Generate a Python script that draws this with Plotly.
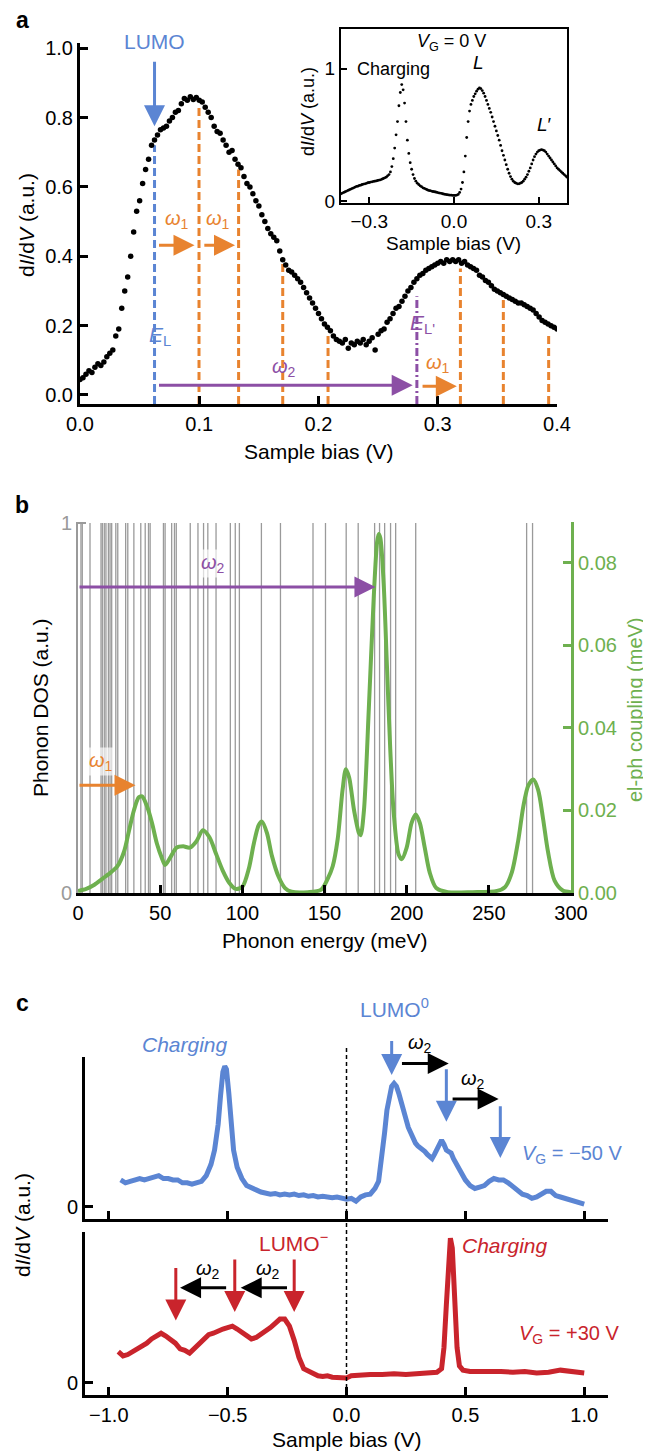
import plotly.graph_objects as go

# ---------------- DATA ----------------
# Panel a: main dI/dV spectrum (bias in V)
a_bias = [0.0, 0.0025, 0.005, 0.0075, 0.01, 0.0125, 0.015, 0.0175, 0.02, 0.0225,
          0.025, 0.0275, 0.03, 0.0325, 0.035, 0.0375, 0.04, 0.0425, 0.045, 0.0475,
          0.05, 0.0525, 0.055, 0.0575, 0.06, 0.0625, 0.065, 0.0675, 0.07, 0.0725,
          0.075, 0.0775, 0.08, 0.0825, 0.085, 0.0875, 0.09, 0.0925, 0.095, 0.0975,
          0.1, 0.1025, 0.105, 0.1075, 0.11, 0.1125, 0.115, 0.1175, 0.12, 0.1225,
          0.125, 0.1275, 0.13, 0.1325, 0.135, 0.1375, 0.14, 0.1425, 0.145, 0.1475,
          0.15, 0.1525, 0.155, 0.1575, 0.16, 0.1625, 0.165, 0.1675, 0.17, 0.1725,
          0.175, 0.1775, 0.18, 0.1825, 0.185, 0.1875, 0.19, 0.1925, 0.195, 0.1975,
          0.2, 0.2025, 0.205, 0.2075, 0.21, 0.2125, 0.215, 0.2175, 0.22, 0.2225,
          0.225, 0.2275, 0.23, 0.2325, 0.235, 0.2375, 0.24, 0.2425, 0.245, 0.2475,
          0.25, 0.2525, 0.255, 0.2575, 0.26, 0.2625, 0.265, 0.2675, 0.27, 0.2725,
          0.275, 0.2775, 0.28, 0.2825, 0.285, 0.2875, 0.29, 0.2925, 0.295, 0.2975,
          0.3, 0.3025, 0.305, 0.3075, 0.31, 0.3125, 0.315, 0.3175, 0.32, 0.3225,
          0.325, 0.3275, 0.33, 0.3325, 0.335, 0.3375, 0.34, 0.3425, 0.345, 0.3475,
          0.35, 0.3525, 0.355, 0.3575, 0.36, 0.3625, 0.365, 0.3675, 0.37, 0.3725,
          0.375, 0.3775, 0.38, 0.3825, 0.385, 0.3875, 0.39, 0.3925, 0.395, 0.3975,
          0.4]
a_didv = [0.045, 0.05, 0.06, 0.07, 0.065, 0.08, 0.09, 0.085, 0.095, 0.11,
          0.12, 0.13, 0.17, 0.19, 0.25, 0.30, 0.34, 0.40, 0.47, 0.53,
          0.56, 0.61, 0.65, 0.68, 0.72, 0.735, 0.75, 0.765, 0.77, 0.775,
          0.79, 0.80, 0.815, 0.82, 0.84, 0.855, 0.85, 0.86, 0.852, 0.858,
          0.85, 0.845, 0.83, 0.815, 0.80, 0.775, 0.76, 0.755, 0.735, 0.72,
          0.70, 0.705, 0.68, 0.665, 0.655, 0.63, 0.61, 0.60, 0.58, 0.56,
          0.545, 0.52, 0.50, 0.48, 0.465, 0.455, 0.445, 0.415, 0.39, 0.375,
          0.36, 0.355, 0.345, 0.335, 0.325, 0.31, 0.295, 0.28, 0.265, 0.25,
          0.235, 0.22, 0.205, 0.195, 0.185, 0.17, 0.16, 0.155, 0.15, 0.16,
          0.135, 0.15, 0.145, 0.155, 0.15, 0.16, 0.145, 0.155, 0.165, 0.13,
          0.175, 0.185, 0.19, 0.21, 0.22, 0.235, 0.25, 0.255, 0.27, 0.285,
          0.30, 0.31, 0.325, 0.335, 0.345, 0.35, 0.36, 0.365, 0.37, 0.375,
          0.38, 0.385, 0.38, 0.39, 0.385, 0.39, 0.385, 0.39, 0.38, 0.385,
          0.375, 0.37, 0.365, 0.36, 0.345, 0.34, 0.33, 0.325, 0.315, 0.305,
          0.30, 0.295, 0.29, 0.285, 0.28, 0.275, 0.27, 0.265, 0.265, 0.26,
          0.255, 0.25, 0.245, 0.235, 0.225, 0.215, 0.21, 0.205, 0.20, 0.195,
          0.19]

# Panel a: vertical marker lines (position, top value, kind)
mark_bias = [0.0625, 0.0998, 0.133, 0.170, 0.208, 0.2825, 0.319, 0.355, 0.393]
mark_top = [0.72, 0.83, 0.65, 0.38, 0.18, 0.285, 0.365, 0.285, 0.18]
mark_kind = ["LUMO", "w1", "w1", "w1", "w1", "L'", "w1", "w1", "w1"]

# Panel a inset (V_G = 0 V)
i_bias = [-0.400, -0.395, -0.390, -0.385, -0.380, -0.375, -0.370, -0.365, -0.360, -0.355,
          -0.350, -0.345, -0.340, -0.335, -0.330, -0.325, -0.320, -0.315, -0.310, -0.305,
          -0.300, -0.295, -0.290, -0.285, -0.280, -0.275, -0.270, -0.265, -0.260, -0.255,
          -0.250, -0.245, -0.240, -0.235, -0.230, -0.225, -0.220, -0.215, -0.210, -0.205,
          -0.200, -0.195, -0.190, -0.185, -0.180, -0.175, -0.170, -0.165, -0.160, -0.155,
          -0.150, -0.145, -0.140, -0.135, -0.130, -0.125, -0.120, -0.115, -0.110, -0.105,
          -0.100, -0.095, -0.090, -0.085, -0.080, -0.075, -0.070, -0.065, -0.060, -0.055,
          -0.050, -0.045, -0.040, -0.035, -0.030, -0.025, -0.020, -0.015, -0.010, -0.005,
          0.000, 0.005, 0.010, 0.015, 0.020, 0.025, 0.030, 0.035, 0.040, 0.045,
          0.050, 0.055, 0.060, 0.065, 0.070, 0.075, 0.080, 0.085, 0.090, 0.095,
          0.100, 0.105, 0.110, 0.115, 0.120, 0.125, 0.130, 0.135, 0.140, 0.145,
          0.150, 0.155, 0.160, 0.165, 0.170, 0.175, 0.180, 0.185, 0.190, 0.195,
          0.200, 0.205, 0.210, 0.215, 0.220, 0.225, 0.230, 0.235, 0.240, 0.245,
          0.250, 0.255, 0.260, 0.265, 0.270, 0.275, 0.280, 0.285, 0.290, 0.295,
          0.300, 0.305, 0.310, 0.315, 0.320, 0.325, 0.330, 0.335, 0.340, 0.345,
          0.350, 0.355, 0.360, 0.365, 0.370, 0.375, 0.380, 0.385, 0.390, 0.395,
          0.400]
i_didv = [0.055, 0.06, 0.065, 0.07, 0.075, 0.08, 0.085, 0.09, 0.095, 0.10,
          0.105, 0.11, 0.112, 0.118, 0.12, 0.125, 0.128, 0.13, 0.134, 0.138,
          0.14, 0.143, 0.145, 0.148, 0.15, 0.152, 0.155, 0.158, 0.16, 0.165,
          0.17, 0.175, 0.18, 0.19, 0.20, 0.22, 0.26, 0.32, 0.40, 0.50,
          0.60, 0.72, 0.82, 0.88, 0.84, 0.74, 0.60, 0.46, 0.36, 0.29,
          0.24, 0.20, 0.17, 0.15, 0.135, 0.125, 0.115, 0.108, 0.10, 0.095,
          0.09, 0.085, 0.08, 0.078, 0.075, 0.072, 0.07, 0.068, 0.065, 0.062,
          0.06, 0.058, 0.055, 0.052, 0.05, 0.048, 0.046, 0.045, 0.044, 0.043,
          0.042, 0.042, 0.045, 0.05, 0.065, 0.09, 0.14, 0.22, 0.34, 0.48,
          0.60, 0.68, 0.73, 0.76, 0.79, 0.81, 0.83, 0.845, 0.855, 0.85,
          0.835, 0.815, 0.79, 0.76, 0.73, 0.70, 0.67, 0.635, 0.60, 0.565,
          0.53, 0.495, 0.46, 0.42, 0.38, 0.345, 0.31, 0.275, 0.24, 0.21,
          0.185, 0.165, 0.15, 0.14, 0.135, 0.13, 0.13, 0.135, 0.14, 0.15,
          0.165, 0.18, 0.20, 0.225, 0.25, 0.28, 0.31, 0.335, 0.355, 0.37,
          0.38, 0.385, 0.388, 0.385, 0.38, 0.37, 0.355, 0.34, 0.325, 0.31,
          0.295, 0.28, 0.265, 0.25, 0.24, 0.23, 0.22, 0.21, 0.20, 0.19,
          0.18]

# Panel b: phonon modes (meV) and el-ph coupling curve
phonon_modes = [1.8, 2.6, 7.3, 14.0, 14.8, 16.0, 17.0, 18.5, 19.5, 20.5, 23.0, 24.2,
                29.0, 30.3, 34.0, 38.2, 40.9, 42.9, 43.9, 52.0, 53.0, 57.0, 58.7, 59.8,
                68.3, 73.0, 76.4, 79.0, 84.0, 92.7, 95.7, 98.2, 111.6, 123.2, 143.0,
                150.6, 163.2, 170.5, 180.5, 183.5, 186.6, 190.2, 193.3, 205.5, 273.0, 276.6]
coup_E = [0, 5, 10, 15, 20, 24, 28, 31, 34, 37, 39, 42, 45, 48, 51, 53, 56, 60, 64, 68,
          72, 76, 80, 84, 88, 92, 96, 100, 104, 107, 110, 112, 115, 118, 122, 126, 130,
          140, 148, 152, 155, 158, 161, 163, 165, 168, 171, 172, 174, 177, 180, 182, 183,
          184, 186, 188, 190, 192, 195, 197, 200, 203, 205.5, 208, 211, 214, 218, 225,
          240, 255, 260, 264, 268, 271, 274, 277, 280, 283, 286, 290, 295, 300]
coup_val = [0.0005, 0.001, 0.002, 0.0035, 0.005, 0.0065, 0.010, 0.015, 0.020, 0.0232, 0.0234,
            0.021, 0.017, 0.012, 0.0085, 0.0068, 0.0085, 0.011, 0.0113, 0.011,
            0.0125, 0.0152, 0.0135, 0.0095, 0.0055, 0.0025, 0.001, 0.0015, 0.006, 0.012,
            0.0165, 0.0173, 0.0145, 0.009, 0.004, 0.0012, 0.0003,
            0.0002, 0.0008, 0.0035, 0.0065, 0.013, 0.025, 0.0300, 0.028, 0.020, 0.0145,
            0.014, 0.020, 0.045, 0.072, 0.085, 0.087,
            0.086, 0.075, 0.055, 0.035, 0.020, 0.0095, 0.0082, 0.011, 0.017, 0.019,
            0.017, 0.011, 0.005, 0.0012, 0.0002,
            0.0002, 0.0005, 0.0015, 0.005, 0.013, 0.021, 0.026, 0.0275, 0.025, 0.018,
            0.010, 0.003, 0.0006, 0.0002]

# Panel c: V_G = -50 V (blue) and V_G = +30 V (red)
c_neg_bias = [-0.95, -0.93, -0.91, -0.89, -0.87, -0.85, -0.83, -0.81, -0.79, -0.77, -0.75,
              -0.73, -0.71, -0.69, -0.67, -0.65, -0.63, -0.61, -0.59, -0.57, -0.555, -0.54,
              -0.53, -0.52, -0.512, -0.505, -0.495, -0.485, -0.475, -0.46, -0.44, -0.42,
              -0.40, -0.38, -0.36, -0.34, -0.32, -0.30, -0.28, -0.26, -0.24, -0.22, -0.20,
              -0.18, -0.16, -0.14, -0.12, -0.10, -0.08, -0.06, -0.04, -0.02, 0.00, 0.02,
              0.04, 0.06, 0.08, 0.10, 0.12, 0.135, 0.15, 0.16, 0.17, 0.18, 0.19, 0.20,
              0.21, 0.22, 0.23, 0.24, 0.25, 0.26, 0.27, 0.28, 0.29, 0.30, 0.31, 0.32,
              0.33, 0.34, 0.35, 0.36, 0.37, 0.38, 0.39, 0.40, 0.41, 0.42, 0.43, 0.44,
              0.45, 0.46, 0.47, 0.48, 0.49, 0.50, 0.52, 0.54, 0.56, 0.58, 0.60, 0.62,
              0.64, 0.66, 0.68, 0.70, 0.72, 0.74, 0.76, 0.78, 0.80, 0.82, 0.84, 0.86,
              0.88, 0.90, 0.92, 0.94, 0.96, 0.98, 1.00]
c_neg_didv = [0.19, 0.17, 0.18, 0.19, 0.20, 0.19, 0.20, 0.21, 0.22, 0.20, 0.20,
              0.19, 0.19, 0.17, 0.17, 0.16, 0.17, 0.18, 0.22, 0.30, 0.40, 0.58,
              0.78, 0.95, 0.99, 0.97, 0.80, 0.58, 0.40, 0.28, 0.20, 0.15,
              0.13, 0.12, 0.105, 0.10, 0.09, 0.095, 0.085, 0.09, 0.085, 0.09, 0.08,
              0.085, 0.075, 0.08, 0.07, 0.075, 0.07, 0.065, 0.07, 0.06, 0.055, 0.06,
              0.04, 0.07, 0.085, 0.09, 0.13, 0.18, 0.35, 0.52, 0.68, 0.79, 0.85, 0.87,
              0.85, 0.80, 0.73, 0.68, 0.62, 0.56, 0.52, 0.47, 0.45, 0.43, 0.42, 0.41,
              0.39, 0.37, 0.36, 0.34, 0.37, 0.41, 0.45, 0.47, 0.44, 0.40, 0.39, 0.38,
              0.34, 0.30, 0.28, 0.25, 0.22, 0.19, 0.15, 0.13, 0.14, 0.15, 0.18, 0.20,
              0.19, 0.19, 0.17, 0.14, 0.11, 0.09, 0.08, 0.06, 0.07, 0.09, 0.11, 0.11,
              0.08, 0.07, 0.06, 0.05, 0.04, 0.035, 0.02]
c_pos_bias = [-0.96, -0.94, -0.92, -0.90, -0.88, -0.86, -0.84, -0.82, -0.80, -0.78, -0.76,
              -0.74, -0.72, -0.70, -0.68, -0.66, -0.64, -0.62, -0.60, -0.58, -0.56, -0.54,
              -0.52, -0.50, -0.48, -0.46, -0.44, -0.42, -0.40, -0.38, -0.36, -0.34, -0.32,
              -0.30, -0.28, -0.26, -0.24, -0.22, -0.20, -0.18, -0.16, -0.14, -0.12, -0.10,
              -0.08, -0.06, -0.04, -0.02, 0.00, 0.02, 0.05, 0.10, 0.15, 0.20, 0.25, 0.30,
              0.35, 0.38, 0.40, 0.41, 0.42, 0.43, 0.437, 0.445, 0.455, 0.465, 0.475, 0.49,
              0.52, 0.55, 0.60, 0.65, 0.70, 0.75, 0.80, 0.85, 0.90, 0.95, 1.00]
c_pos_didv = [0.22, 0.19, 0.20, 0.22, 0.23, 0.25, 0.28, 0.31, 0.33, 0.35, 0.33,
              0.31, 0.28, 0.24, 0.23, 0.21, 0.24, 0.27, 0.31, 0.34, 0.35, 0.37,
              0.38, 0.39, 0.40, 0.38, 0.36, 0.33, 0.31, 0.32, 0.34, 0.36, 0.39,
              0.42, 0.45, 0.45, 0.40, 0.30, 0.18, 0.10, 0.08, 0.07, 0.05, 0.045,
              0.05, 0.04, 0.04, 0.035, 0.035, 0.05, 0.055, 0.06, 0.06, 0.065, 0.06, 0.065,
              0.07, 0.075, 0.10, 0.25, 0.55, 0.90, 1.02, 0.95, 0.60, 0.25, 0.12, 0.09,
              0.08, 0.08, 0.085, 0.08, 0.075, 0.08, 0.07, 0.075, 0.09, 0.08, 0.07]

# ---------------- STYLE ----------------
# The page body keeps its default 8 px margin, so the figure is 8 px smaller
# than the window and all layout positions are measured from the window corner.
OFF = 8
W, H = 651 - OFF, 1451 - OFF
FONT = "Liberation Sans, Arial, Helvetica, sans-serif"
BLUE = "#5b85d3"
ORANGE = "#e8832f"
PURPLE = "#8c4fa5"
GREEN = "#6eb04f"
RED = "#c9242c"
GRAY = "#9a9a9a"


def X(px):
    return (px - OFF) / W


def Y(py):
    return 1 - (py - OFF) / H


fig = go.Figure()

# ---- panel a ----
kind_style = {"LUMO": (BLUE, "8px,4px"), "w1": (ORANGE, "8px,4px"), "L'": (PURPLE, "8px,3px,2px,3px")}
for xv, top, kind in zip(mark_bias, mark_top, mark_kind):
    col, dash = kind_style[kind]
    fig.add_trace(go.Scatter(x=[xv, xv], y=[-0.026, top], mode="lines",
                             line=dict(color=col, width=3, dash=dash),
                             xaxis="x", yaxis="y", hoverinfo="skip"))
fig.add_trace(go.Scatter(x=a_bias, y=a_didv, mode="markers",
                         marker=dict(color="black", size=5.5),
                         xaxis="x", yaxis="y"))
# inset
fig.add_trace(go.Scatter(x=i_bias, y=i_didv, mode="markers",
                         marker=dict(color="black", size=2.8),
                         xaxis="x2", yaxis="y2"))

# ---- panel b ----
vx, vy = [], []
for e in phonon_modes:
    vx += [e, e, None]
    vy += [0, 1, None]
fig.add_trace(go.Scatter(x=vx, y=vy, mode="lines", line=dict(color=GRAY, width=1.3),
                         xaxis="x3", yaxis="y3", hoverinfo="skip"))
fig.add_trace(go.Scatter(x=coup_E, y=coup_val, mode="lines",
                         line=dict(color=GREEN, width=4, shape="spline", smoothing=0.8),
                         xaxis="x3", yaxis="y4"))

# ---- panel c ----
fig.add_trace(go.Scatter(x=c_neg_bias, y=c_neg_didv, mode="lines",
                         line=dict(color=BLUE, width=5),
                         xaxis="x5", yaxis="y5"))
fig.add_trace(go.Scatter(x=c_pos_bias, y=c_pos_didv, mode="lines",
                         line=dict(color=RED, width=5),
                         xaxis="x6", yaxis="y6"))

TICKF = dict(family=FONT, size=20, color="black")
base = dict(showline=True, linecolor="black", linewidth=3, ticks="inside", ticklen=8,
            tickwidth=3, tickcolor="black", showgrid=False, zeroline=False, tickfont=TICKF,
            automargin=False)

fig.update_layout(
    width=W, height=H, margin=dict(l=0, r=0, t=0, b=0, pad=0, autoexpand=False),
    paper_bgcolor="white", plot_bgcolor="white", showlegend=False,
    font=dict(family=FONT, color="black"),
    xaxis=dict(domain=[X(80), X(557)], range=[0, 0.4], anchor="y",
               tickvals=[0, 0.1, 0.2, 0.3, 0.4], tickformat=".1f", **base),
    yaxis=dict(domain=[Y(404), Y(43)], range=[-0.026, 1.015], anchor="x",
               tickvals=[0, 0.2, 0.4, 0.6, 0.8, 1.0], tickformat=".1f", **base),
    xaxis2=dict(domain=[X(341), X(567)], range=[-0.4, 0.4], anchor="y2", mirror=True,
                showline=True, linecolor="black", linewidth=2, ticks="inside", ticklen=6,
                tickwidth=2, tickcolor="black", showgrid=False, zeroline=False,
                tickvals=[-0.3, 0, 0.3], tickformat=".1f", automargin=False,
                tickfont=dict(family=FONT, size=19, color="black")),
    yaxis2=dict(domain=[Y(203), Y(29)], range=[-0.015, 1.3], anchor="x2", mirror=True,
                showline=True, linecolor="black", linewidth=2, ticks="inside", ticklen=6,
                tickwidth=2, tickcolor="black", showgrid=False, zeroline=False,
                tickvals=[0, 1], ticktext=["0", "1"], automargin=False,
                tickfont=dict(family=FONT, size=19, color="black")),
    xaxis3=dict(domain=[X(78), X(571)], range=[0, 300], anchor="y3",
                tickvals=[0, 50, 100, 150, 200, 250, 300], **base),
    yaxis3=dict(domain=[Y(893), Y(522)], range=[0, 1.003], anchor="x3",
                showline=True, linecolor=GRAY, linewidth=2, ticks="inside", ticklen=8,
                tickwidth=2, tickcolor=GRAY, showgrid=False, zeroline=False,
                tickvals=[0, 1], ticktext=["0", "1"], automargin=False,
                tickfont=dict(family=FONT, size=20, color=GRAY)),
    yaxis4=dict(range=[0, 0.0899], anchor="x3", overlaying="y3", side="right",
                showline=True, linecolor=GREEN, linewidth=3, ticks="inside", ticklen=8,
                tickwidth=3, tickcolor=GREEN, showgrid=False, zeroline=False,
                tickvals=[0, 0.02, 0.04, 0.06, 0.08], tickformat=".2f", automargin=False,
                tickfont=dict(family=FONT, size=20, color=GREEN)),
    xaxis5=dict(domain=[X(85), X(608)], range=[-1.1, 1.1], anchor="y5",
                tickvals=[-1, -0.5, 0, 0.5, 1], showticklabels=False, **base),
    yaxis5=dict(domain=[Y(1219), Y(1057)], range=[-0.085, 1.056], anchor="x5",
                tickvals=[0], ticktext=["0"], **base),
    xaxis6=dict(domain=[X(85), X(608)], range=[-1.1, 1.1], anchor="y6",
                tickvals=[-1, -0.5, 0, 0.5, 1], tickformat=".1f", **base),
    yaxis6=dict(domain=[Y(1395), Y(1232)], range=[-0.085, 1.063], anchor="x6",
                tickvals=[0], ticktext=["0"], **base),
)

# dashed zero line in panel c
fig.add_shape(type="line", xref="x6", yref="paper", x0=0, x1=0, y0=Y(1395), y1=Y(1045),
              line=dict(color="black", width=1.5, dash="4px,3px"))


def arrow(xr, yr, x0, y0, x1, y1, color, width=3, size=1.4):
    fig.add_annotation(x=x1, y=y1, ax=x0, ay=y0, xref=xr, yref=yr, axref=xr, ayref=yr,
                       showarrow=True, arrowhead=2, arrowsize=size, arrowwidth=width,
                       arrowcolor=color, text="", standoff=0, startstandoff=0)


def txt(xr, yr, x, y, text, color="black", size=19, angle=0, bg=None, xanchor="center"):
    kw = dict(x=x, y=y, xref=xr, yref=yr, text=text, showarrow=False, textangle=angle,
              font=dict(family=FONT, size=size, color=color), xanchor=xanchor, yanchor="middle")
    if bg:
        kw["bgcolor"] = bg
    fig.add_annotation(**kw)


W1 = "<i>ω</i><sub>1</sub>"
W2 = "<i>ω</i><sub>2</sub>"

# panel a annotations
arrow("x", "y", 0.0625, 0.965, 0.0625, 0.775, BLUE)
txt("paper", "paper", X(154), Y(42), "LUMO", BLUE, 21)
arrow("x", "y", 0.065, 0.432, 0.096, 0.432, ORANGE)
arrow("x", "y", 0.103, 0.432, 0.130, 0.432, ORANGE)
txt("x", "y", 0.081, 0.505, W1, ORANGE, 20)
txt("x", "y", 0.116, 0.505, W1, ORANGE, 20)
arrow("x", "y", 0.065, 0.028, 0.279, 0.028, PURPLE)
txt("x", "y", 0.171, 0.08, W2, PURPLE, 20)
arrow("x", "y", 0.286, 0.025, 0.316, 0.025, ORANGE)
txt("x", "y", 0.30, 0.09, W1, ORANGE, 20)
txt("x", "y", 0.067, 0.17, "<i>E</i><sub>L</sub>", BLUE, 21)
txt("x", "y", 0.287, 0.205, "<i>E</i><sub>L'</sub>", PURPLE, 21)

# inset texts
txt("x2", "y2", -0.01, 1.2, "<i>V</i><sub>G</sub> = 0 V", "black", 18)
txt("x2", "y2", -0.35, 1.0, "Charging", "black", 18, xanchor="left")
txt("x2", "y2", 0.085, 1.05, "<i>L</i>", "black", 19)
txt("x2", "y2", 0.32, 0.58, "<i>L</i>′", "black", 19)
txt("paper", "paper", X(308), Y(112), "d<i>I</i>/d<i>V</i> (a.u.)", "black", 18, angle=-90)
txt("paper", "paper", X(454), Y(243), "Sample bias (V)", "black", 19)

# panel a titles
txt("paper", "paper", X(26), Y(225), "d<i>I</i>/d<i>V</i> (a.u.)", "black", 21, angle=-90)
txt("paper", "paper", X(318), Y(451), "Sample bias (V)", "black", 21)

# panel b annotations
txt("x3", "y3", 82, 0.89, W2, PURPLE, 20, bg="rgba(255,255,255,0.65)")
arrow("x3", "y3", 0, 0.827, 181, 0.827, PURPLE)
txt("x3", "y3", 14, 0.355, W1, ORANGE, 20, bg="rgba(255,255,255,0.65)")
arrow("x3", "y3", 0, 0.291, 35, 0.291, ORANGE)
txt("paper", "paper", X(40), Y(708), "Phonon DOS (a.u.)", "black", 21, angle=-90)
txt("paper", "paper", X(635), Y(710), "el-ph coupling (meV)", GREEN, 20, angle=-90)
txt("paper", "paper", X(324), Y(940), "Phonon energy (meV)", "black", 21)

# panel c annotations (top)
txt("paper", "paper", X(394), Y(1008), "LUMO<sup>0</sup>", BLUE, 21)
arrow("x5", "y5", 0.19, 1.18, 0.19, 0.93, BLUE)
arrow("x5", "y5", 0.42, 0.98, 0.42, 0.60, BLUE)
arrow("x5", "y5", 0.647, 0.72, 0.647, 0.345, BLUE)
arrow("x5", "y5", 0.227, 1.01, 0.43, 1.01, "black")
arrow("x5", "y5", 0.44, 0.76, 0.64, 0.76, "black")
txt("paper", "paper", X(420), Y(1043), W2, "black", 20)
txt("x5", "y5", 0.53, 0.895, W2, "black", 20)
txt("paper", "paper", X(185), Y(1044), "<i>Charging</i>", BLUE, 21)
txt("x5", "y5", 0.95, 0.366, "<i>V</i><sub>G</sub> = −50 V", BLUE, 20)

# panel c annotations (bottom)
txt("x6", "y6", -0.223, 0.99, "LUMO<sup>−</sup>", RED, 21)
arrow("x6", "y6", -0.718, 0.82, -0.718, 0.44, RED)
arrow("x6", "y6", -0.47, 0.88, -0.47, 0.50, RED)
arrow("x6", "y6", -0.22, 0.88, -0.22, 0.50, RED)
arrow("x6", "y6", -0.50, 0.67, -0.70, 0.67, "black")
arrow("x6", "y6", -0.244, 0.67, -0.445, 0.67, "black")
txt("x6", "y6", -0.584, 0.80, W2, "black", 20)
txt("x6", "y6", -0.332, 0.80, W2, "black", 20)
txt("x6", "y6", 0.668, 0.97, "<i>Charging</i>", RED, 21)
txt("x6", "y6", 0.94, 0.34, "<i>V</i><sub>G</sub> = +30 V", RED, 20)
txt("paper", "paper", X(22), Y(1225), "d<i>I</i>/d<i>V</i> (a.u.)", "black", 21, angle=-90)
txt("paper", "paper", X(346), Y(1439), "Sample bias (V)", "black", 21)

# panel letters
for lab, py in (("a", 20), ("b", 505), ("c", 1003)):
    txt("paper", "paper", X(22), Y(py), "<b>" + lab + "</b>", "black", 23)

fig.write_html("out.html")
